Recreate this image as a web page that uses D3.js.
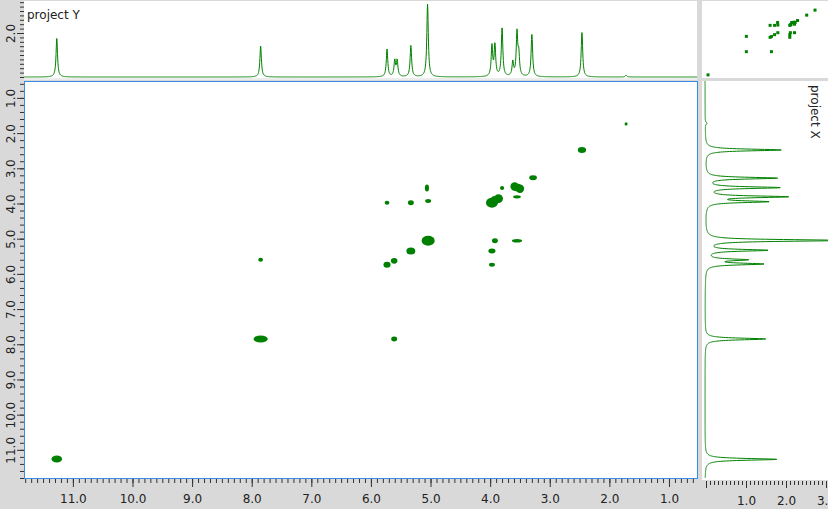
<!DOCTYPE html>
<html>
<head>
<meta charset="utf-8">
<script src="https://cdn.jsdelivr.net/npm/d3@7"></script>
<style>
  body { margin: 0; background: #d9d9d9; }
  svg { display: block; font-family: "DejaVu Sans", sans-serif; }
</style>
</head>
<body>
<svg width="828" height="509"></svg>
<script>
// cross peaks: F2 (x) ppm, F1 (y) ppm, linewidths in ppm
var peakF2 = [11.27, 7.85, 7.85, 5.61, 1.72, 2.46, 3.28, 3.59, 3.50, 3.54, 3.80, 3.55, 3.97, 3.86, 3.92,
              5.06, 5.04, 5.73, 5.33, 5.04, 5.33, 5.61, 5.73, 3.92, 3.55, 3.97, 3.97];
var peakF1 = [11.26, 7.85, 5.60, 7.85, 1.74, 2.48, 3.27, 3.52, 3.58, 3.55, 3.56, 3.81, 3.98, 3.86, 3.90,
              3.56, 3.93, 3.98, 3.98, 5.06, 5.35, 5.63, 5.74, 5.06, 5.06, 5.35, 5.74];
var peakW2 = [0.18, 0.24, 0.08, 0.10, 0.05, 0.14, 0.13, 0.14, 0.14, 0.16, 0.07, 0.13, 0.20, 0.15, 0.14,
              0.07, 0.10, 0.08, 0.10, 0.22, 0.15, 0.11, 0.12, 0.10, 0.17, 0.12, 0.10];
var peakW1 = [0.20, 0.20, 0.11, 0.14, 0.09, 0.17, 0.14, 0.24, 0.24, 0.22, 0.12, 0.09, 0.28, 0.25, 0.22,
              0.20, 0.11, 0.11, 0.14, 0.28, 0.20, 0.16, 0.17, 0.14, 0.10, 0.14, 0.11];

// project Y (top) peaks
var topPpm = [11.27, 7.85, 5.73, 5.60, 5.56, 5.33, 5.05, 3.97, 3.92, 3.80, 3.62, 3.55, 3.52, 3.30, 2.46, 1.72];
var topInt = [1.75, 1.40, 1.25, 0.72, 0.72, 1.42, 3.30, 1.38, 1.42, 2.22, 0.65, 1.95, 0.95, 1.95, 2.05, 0.08];

// project X (right) peaks
var rightPpm = [1.72, 2.48, 3.28, 3.55, 3.81, 3.95, 5.05, 5.33, 5.60, 5.72, 7.85, 11.27];
var rightInt = [0.05, 1.90, 1.78, 1.83, 2.00, 1.50, 3.40, 1.52, 0.98, 1.40, 1.52, 1.80];

var ppmLabels = [1, 2, 3, 4, 5, 6, 7, 8, 9, 10, 11];

var svg = d3.select('svg');
var green = '#008000';

// scales
var x = d3.scaleLinear().domain([11.82, 0.53]).range([24, 697]);
var y = d3.scaleLinear().domain([0.52, 11.8]).range([81, 478]);
var yTop = d3.scaleLinear().domain([0, 3.5]).range([77, 0]);
var xRight = d3.scaleLinear().domain([0, 3.1]).range([706, 830]);
var xm = d3.scaleLinear().domain([11.72, 0.56]).range([703, 828]);
var ym = d3.scaleLinear().domain([0.4, 11.72]).range([1, 78]);

// panels
svg.append('rect').attr('x', 24).attr('y', 1).attr('width', 673).attr('height', 77).attr('fill', '#fff');
svg.append('rect').attr('x', 24).attr('y', 78).attr('width', 673).attr('height', 2).attr('fill', '#ececec');
svg.append('rect').attr('x', 702).attr('y', 1).attr('width', 126).attr('height', 77).attr('fill', '#fff');
svg.append('rect').attr('x', 702).attr('y', 81).attr('width', 126).attr('height', 399).attr('fill', '#fff');
svg.append('rect').attr('x', 24.5).attr('y', 81.5).attr('width', 673).attr('height', 397)
  .attr('fill', '#fff').attr('stroke', '#3c8ce6');

var defs = svg.append('defs');
defs.append('clipPath').attr('id', 'clipTop').append('rect')
  .attr('x', 24).attr('y', 1).attr('width', 673).attr('height', 78);
defs.append('clipPath').attr('id', 'clipRight').append('rect')
  .attr('x', 702).attr('y', 81).attr('width', 126).attr('height', 399);
defs.append('clipPath').attr('id', 'clipMain').append('rect')
  .attr('x', 25).attr('y', 82).attr('width', 672).attr('height', 396);

// lorentzian sum of a peak list
function spectrum(ppms, ints, g, lo, hi, step) {
  return d3.range(lo, hi, step).map(function(p) {
    return [p, d3.sum(ppms, function(c, i) { return ints[i] / (1 + Math.pow((p - c) / g, 2)); })];
  });
}

// top projection
var topData = spectrum(topPpm, topInt, 0.015, 0.53, 11.82, 0.004);
svg.append('path')
  .attr('clip-path', 'url(#clipTop)')
  .attr('d', d3.line().x(function(d) { return x(d[0]); }).y(function(d) { return yTop(d[1]); })(topData))
  .attr('fill', 'none').attr('stroke', green).attr('stroke-width', 1);

// right projection
var rightData = spectrum(rightPpm, rightInt, 0.03, 0.52, 11.8, 0.004);
svg.append('path')
  .attr('clip-path', 'url(#clipRight)')
  .attr('d', d3.line().x(function(d) { return xRight(d[1]) - 1; }).y(function(d) { return y(d[0]); })(rightData))
  .attr('fill', 'none').attr('stroke', green).attr('stroke-width', 1);

// cross peaks
var idx = d3.range(peakF2.length);
svg.append('g').attr('clip-path', 'url(#clipMain)')
  .selectAll('ellipse').data(idx).enter().append('ellipse')
  .attr('cx', function(i) { return x(peakF2[i]); })
  .attr('cy', function(i) { return y(peakF1[i]); })
  .attr('rx', function(i) { return Math.abs(x(peakF2[i] + peakW2[i] / 2) - x(peakF2[i])); })
  .attr('ry', function(i) { return Math.abs(y(peakF1[i] + peakW1[i] / 2) - y(peakF1[i])); })
  .attr('fill', green);

// overview map
svg.append('g').selectAll('rect').data(idx).enter().append('rect')
  .attr('x', function(i) { return xm(peakF2[i]) - 1.5; })
  .attr('y', function(i) { return ym(peakF1[i]) - 1.5; })
  .attr('width', 3).attr('height', 3)
  .attr('fill', green);

// axes
function styleAxis(g) {
  g.select('.domain').remove();
  g.selectAll('line').attr('stroke', '#333');
  g.selectAll('text').attr('fill', '#222').style('font-size', '12px')
    .style('font-family', '"DejaVu Sans", sans-serif');
}

// bottom axis of main
var minorX = d3.range(6, 119).map(function(d) { return d / 10; });
svg.append('g').attr('transform', 'translate(0,479)')
  .call(d3.axisBottom(x).tickValues(minorX).tickSize(4).tickFormat(''))
  .call(styleAxis);
svg.append('g').attr('transform', 'translate(0,479)')
  .call(d3.axisBottom(x).tickValues(ppmLabels).tickSize(8).tickPadding(7).tickFormat(d3.format('.1f')))
  .call(styleAxis);

// left axis of main
var minorY = d3.range(3, 60).map(function(d) { return d / 5; });
svg.append('g').attr('transform', 'translate(24,0)')
  .call(d3.axisLeft(y).tickValues(minorY).tickSize(4).tickFormat(''))
  .call(styleAxis);
var leftAx = svg.append('g').attr('transform', 'translate(24,0)')
  .call(d3.axisLeft(y).tickValues(ppmLabels).tickSize(7).tickFormat(d3.format('.1f')))
  .call(styleAxis);
leftAx.selectAll('text')
  .attr('x', null).attr('dy', null)
  .attr('text-anchor', 'middle')
  .attr('transform', 'translate(-9,0) rotate(-90)');

// top projection axis
var minorT = d3.range(0, 18).map(function(d) { return d / 5; });
svg.append('g').attr('transform', 'translate(24,0)')
  .call(d3.axisLeft(yTop).tickValues(minorT).tickSize(4).tickFormat(''))
  .call(styleAxis);
var topAx = svg.append('g').attr('transform', 'translate(24,0)')
  .call(d3.axisLeft(yTop).tickValues([2]).tickSize(7).tickFormat(d3.format('.1f')))
  .call(styleAxis);
topAx.selectAll('text')
  .attr('x', null).attr('dy', null)
  .attr('text-anchor', 'middle')
  .attr('transform', 'translate(-9,0) rotate(-90)');

// right projection axis
var minorR = d3.range(0, 31).map(function(d) { return d / 10; });
svg.append('g').attr('transform', 'translate(0,481)')
  .call(d3.axisBottom(xRight).tickValues(minorR).tickSize(4).tickFormat(''))
  .call(styleAxis);
svg.append('g').attr('transform', 'translate(0,481)')
  .call(d3.axisBottom(xRight).tickValues([0, 1, 2, 3]).tickSize(7).tickPadding(8)
    .tickFormat(function(d) { return d === 0 ? '' : d3.format('.1f')(d); }))
  .call(styleAxis);

// titles
svg.append('text').attr('x', 27).attr('y', 19).text('project Y')
  .style('font-size', '12px').attr('fill', '#222');
svg.append('text').attr('transform', 'translate(811,85) rotate(90)').text('project X')
  .style('font-size', '12px').attr('fill', '#222');
</script>
</body>
</html>
